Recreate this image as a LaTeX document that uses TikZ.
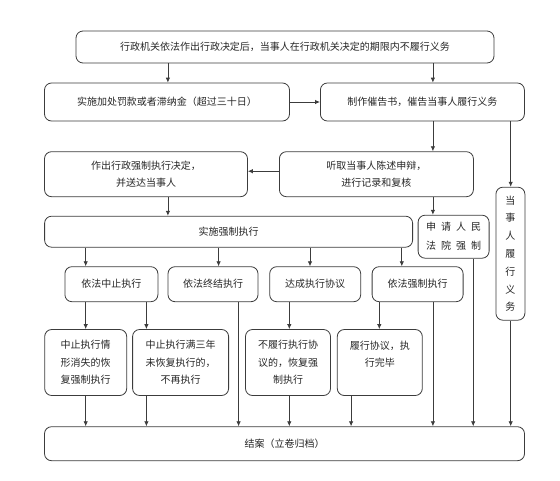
\documentclass[tikz,border=0pt]{standalone}
\usepackage{fontspec}
\setmainfont{Noto Sans CJK SC}
\usetikzlibrary{arrows.meta}
\definecolor{linegray}{RGB}{60,60,60}

\begin{document}
\begin{tikzpicture}[x=1pt, y=-1pt, arr/.style={-{Latex[length=5pt,width=4.5pt]}, draw=linegray, line width=0.8pt}]
\tikzstyle{box}=[draw=linegray, line width=0.8pt, rounded corners=7pt, align=center, inner sep=0pt, text=black!85, font=\fontsize{10}{17.5}\selectfont]
\useasboundingbox (0,0) rectangle (560,480);
% columns of the vertical connectors
\coordinate (cL) at (167.9,0);
\coordinate (cR) at (432.9,0);
\coordinate (c1) at (85.7,0);
\coordinate (c2) at (146.4,0);
\coordinate (c3) at (218.6,0);
\coordinate (c4) at (238.6,0);
\coordinate (c5) at (310,0);
\coordinate (c6) at (289.3,0);
\coordinate (c7) at (401.8,0);
\coordinate (c8) at (379.3,0);
\coordinate (c9) at (351.1,0);
\coordinate (c10) at (473.2,0);
\coordinate (c11) at (510.7,0);
% boxes
\node[box, minimum width=418pt, minimum height=32pt] (start) at (285,47) {行政机关依法作出行政决定后，当事人在行政机关决定的期限内不履行义务};
\node[box, minimum width=245pt, minimum height=38pt] (fine) at (167,102) {实施加处罚款或者滞纳金（超过三十日）};
\node[box, minimum width=204pt, minimum height=38pt] (urge) at (422.4,102) {制作催告书，催告当事人履行义务};
\node[box, minimum width=203pt, minimum height=45pt] (decide) at (146,174.2) {作出行政强制执行决定，\\并送达当事人};
\node[box, minimum width=194pt, minimum height=45pt] (hear) at (376.4,174.2) {听取当事人陈述申辩，\\进行记录和复核};
\node[box, minimum width=368pt, minimum height=31pt] (enforce) at (228.6,231.7) {实施强制执行};
\node[box, minimum width=71pt, minimum height=43pt, font=\fontsize{10}{19}\selectfont] (court) at (453.6,236.7) {申\hspace{5pt}请\hspace{5pt}人\hspace{5pt}民\\法\hspace{5pt}院\hspace{5pt}强\hspace{5pt}制};
\node[box, minimum width=29pt, minimum height=133pt, font=\fontsize{10}{17.8}\selectfont] (comply) at (510.4,253.7) {当\\事\\人\\履\\行\\义\\务};
\node[box, minimum width=93pt, minimum height=35pt] (suspend) at (111.4,284.2) {依法中止执行};
\node[box, minimum width=90pt, minimum height=35pt] (terminate) at (213,284.2) {依法终结执行};
\node[box, minimum width=91pt, minimum height=35pt] (agree) at (315.2,284.2) {达成执行协议};
\node[box, minimum width=91pt, minimum height=35pt] (force) at (417.6,284.2) {依法强制执行};
\node[box, minimum width=82pt, minimum height=66pt] (resume) at (85.7,362.5) {中止执行情\\形消失的恢\\复强制执行};
\node[box, minimum width=96pt, minimum height=66pt] (stop) at (180.6,362.5) {中止执行满三年\\未恢复执行的，\\不再执行};
\node[box, minimum width=85pt, minimum height=66pt] (breach) at (288,362.5) {不履行执行协\\议的，恢复强\\制执行};
\node[box, minimum width=85pt, minimum height=66pt] (done) at (379.8,362.5) {履行协议，执\\行完毕\\~};
\node[box, minimum width=480pt, minimum height=34pt] (close) at (284.5,443.7) {结案（立卷归档）};
% connectors
\foreach \i/\j/\c in {start/fine/cL, start/urge/cR, urge/hear/cR, decide/enforce/cL, hear/court/cR,
  enforce/suspend/c1, enforce/terminate/c3, enforce/agree/c5, enforce/force/c7,
  suspend/resume/c1, suspend/stop/c2, agree/breach/c6, force/done/c8,
  resume/close/c1, stop/close/c2, terminate/close/c4, breach/close/c6, done/close/c9,
  force/close/cR, court/close/c10, urge/comply/c11, comply/close/c11}{\draw[arr] (\i.south -| \c) -- (\j.north -| \c);}
\draw[arr] (fine.east) -- (urge.west);
\draw[arr] ([yshift=3pt]hear.west) -- ([yshift=3pt]decide.east);
\end{tikzpicture}
\end{document}
